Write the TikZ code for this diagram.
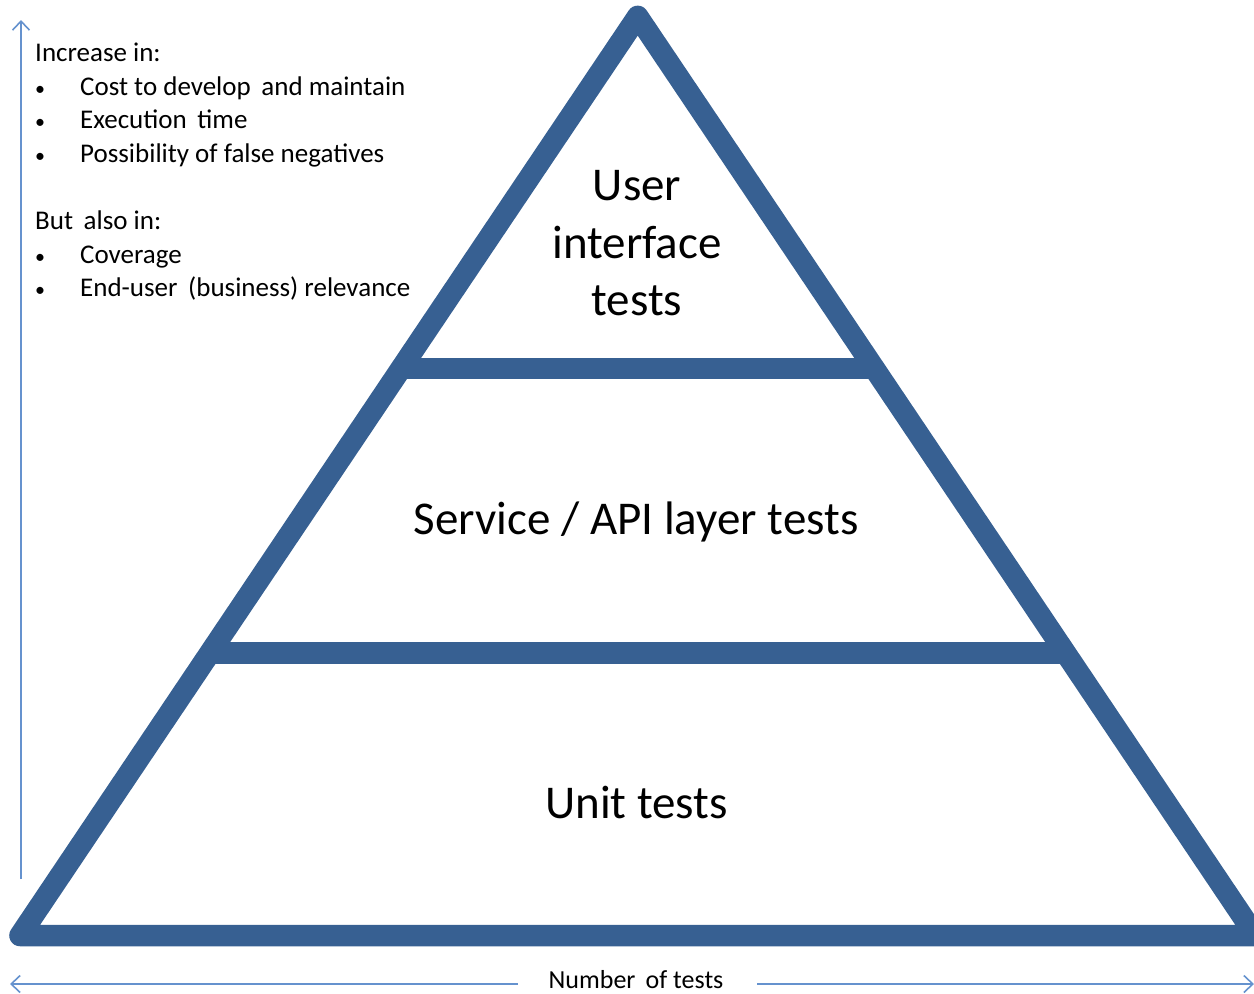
\documentclass[tikz,border=0pt]{standalone}
\usepackage{fontspec}
\setmainfont{Carlito}
\usetikzlibrary{calc,arrows.meta}
\definecolor{pyr}{HTML}{376092}
\definecolor{axis}{HTML}{6592CE}
\tikzset{
  pyramidline/.style={draw=pyr, line width=21.5pt, line join=round, line cap=round},
  axisline/.style={draw=axis, line width=1.8pt},
  axistip/.style={-{Straight Barb[length=9pt,width=17pt,line width=1.6pt]}},
  small/.style={inner sep=0pt, anchor=base west, font=\fontsize{27}{33}\selectfont},
  bul/.style={inner sep=0pt, anchor=base, font=\fontsize{20}{24}\selectfont},
  big/.style={inner sep=0pt, anchor=base, font=\fontsize{47}{57}\selectfont},
}
\begin{document}
\begin{tikzpicture}[x=1pt,y=-1pt]
\useasboundingbox (0,0) rectangle (1254,994);
% pyramid
\coordinate (apex) at (637.7,16.4);
\coordinate (bl) at (20,935.5);
\coordinate (br) at (1255.4,935.5);
\draw[pyramidline] (apex) -- (bl) -- (br) -- cycle;
\coordinate (l1) at ($(apex)!0.3831!(bl)$);
\coordinate (r1) at ($(apex)!0.3831!(br)$);
\coordinate (l2) at ($(apex)!0.6926!(bl)$);
\coordinate (r2) at ($(apex)!0.6926!(br)$);
\draw[pyramidline, line cap=butt] (l1) -- (r1);
\draw[pyramidline, line cap=butt] (l2) -- (r2);
% layer labels
\node[big] (ui1) at (637,200) {User};
\node[big] (ui2) at (637,258) {interface};
\node[big] (ui3) at (637,315) {tests};
\node[big] (svc) at (636,534) {Service / API layer tests};
\node[big] (unit) at (636.5,818) {Unit tests};
% vertical axis
\coordinate (vb) at (21,879);
\coordinate (vt) at (21,20);
\draw[axisline, axistip] (vb) -- (vt);
% horizontal axis
\node[inner sep=0pt, anchor=base, font=\fontsize{26}{32}\selectfont] (num) at (636,988.5) {Number\, of tests};
\coordinate (hl) at (10,984);
\coordinate (hr) at (1254,984);
\coordinate (hle) at (518,984);
\coordinate (hre) at (757,984);
\draw[axisline, axistip] (hle) -- (hl);
\draw[axisline, axistip] (hre) -- (hr);
% side text
\node[small] (inc) at (35,61) {Increase in:};
\node[bul] (b1) at (40,95.5) {\textbullet};
\node[small] (t1) at (80,95.5) {Cost to develop\, and maintain};
\node[bul] (b2) at (40,128.5) {\textbullet};
\node[small] (t2) at (80,128.5) {Execution\, time};
\node[bul] (b3) at (40,162) {\textbullet};
\node[small] (t3) at (80,162) {Possibility of false negatives};
\node[small] (but) at (35,229) {But\, also in:};
\node[bul] (b4) at (40,263) {\textbullet};
\node[small] (t4) at (80,263) {Coverage};
\node[bul] (b5) at (40,296) {\textbullet};
\node[small] (t5) at (80,296) {End-user\, (business) relevance};
\end{tikzpicture}
\end{document}
